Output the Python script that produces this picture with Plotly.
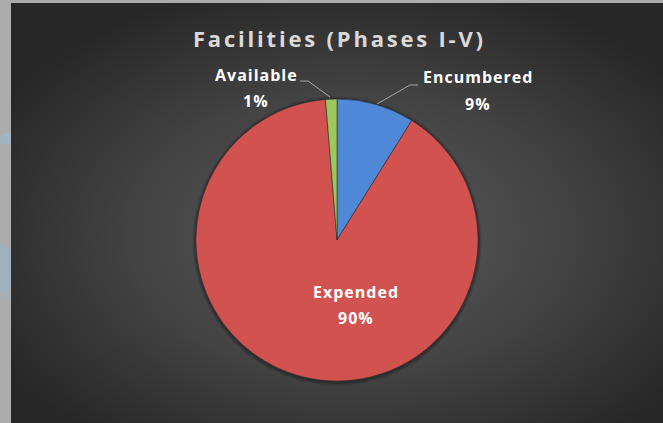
import base64
import plotly.graph_objects as go

# ---- data ----
labels = ["Encumbered", "Expended", "Available"]
values = [8.9, 89.8, 1.3]
colors = ["#4f88d6", "#d2524f", "#9cc75a"]
title_text = "Facilities (Phases I-V)"

W, H = 663, 423

def px(x):
    return x / W

def py(y):
    return 1 - y / H

total = sum(values)
pcts = [round(v / total * 100) for v in values]

# background radial gradient as SVG image
bw, bh = 652, 420
svg = (
    f'<svg xmlns="http://www.w3.org/2000/svg" width="{bw}" height="{bh}">'
    '<defs><radialGradient id="g" cx="0.52" cy="0.55" r="0.62">'
    '<stop offset="0" stop-color="#5c5c5c"/>'
    '<stop offset="0.55" stop-color="#424242"/>'
    '<stop offset="1" stop-color="#272727"/>'
    '</radialGradient></defs>'
    f'<rect width="{bw}" height="{bh}" fill="url(#g)"/></svg>'
)
bg_src = "data:image/svg+xml;base64," + base64.b64encode(svg.encode()).decode()

cx, cy, r = 337, 240, 141

fig = go.Figure()
fig.add_trace(go.Pie(
    labels=labels,
    values=values,
    sort=False,
    direction="clockwise",
    rotation=0,
    textinfo="none",
    hoverinfo="label+percent",
    marker=dict(colors=colors, line=dict(color="rgba(40,40,40,0.55)", width=1)),
    domain=dict(x=[px(cx - r), px(cx + r)], y=[py(cy + r), py(cy - r)]),
    showlegend=False,
))

font_lbl = dict(family="Open Sans", size=16, color="#ffffff", weight="bold")

def spaced(t, ls):
    return f'<span style="letter-spacing:{ls}px">{t}</span>'

# label positions (px): name line and percent line
pos = {
    "Encumbered": ((478, 77), (478, 104)),
    "Expended": ((356, 292), (356, 318)),
    "Available": ((256, 75), (256, 101)),
}

annotations = []
for lab, pct in zip(labels, pcts):
    (nx, ny), (qx, qy) = pos[lab]
    annotations.append(dict(x=px(nx), y=py(ny), xref="paper", yref="paper", text=spaced(lab, 1),
                            showarrow=False, font=font_lbl, xanchor="center", yanchor="middle"))
    annotations.append(dict(x=px(qx), y=py(qy), xref="paper", yref="paper", text=spaced(f"{pct}%", 1),
                            showarrow=False, font=font_lbl, xanchor="center", yanchor="middle"))

annotations.append(dict(x=px(339), y=py(38), xref="paper", yref="paper", text=spaced(title_text, 2.8),
                        showarrow=False, xanchor="center", yanchor="middle",
                        font=dict(family="Open Sans", size=22, color="#d9d9d9", weight="bold")))

def path(points):
    return "M " + " L ".join(f"{px(x)},{py(y)}" for x, y in points)

def circle(rad, fill):
    return dict(type="circle", xref="paper", yref="paper",
                x0=px(cx - rad), x1=px(cx + rad), y0=py(cy + rad + 1), y1=py(cy - rad + 1),
                fillcolor=fill, line=dict(width=0), layer="below")

shapes = [
    circle(r + 3.5, "rgba(0,0,0,0.12)"),
    circle(r + 2, "rgba(0,0,0,0.2)"),
    dict(type="path", xref="paper", yref="paper",
         path=path([(377, 104), (410, 85), (418, 85)]),
         line=dict(color="#a8a8a8", width=1)),
    dict(type="path", xref="paper", yref="paper",
         path=path([(330, 97), (308, 81), (300, 81)]),
         line=dict(color="#a8a8a8", width=1)),
    # faint decorations on the left grey strip
    dict(type="path", xref="paper", yref="paper",
         path=path([(0, 136), (11, 132), (11, 143), (0, 145)]) + " Z",
         fillcolor="#a3b3c0", line=dict(width=0), layer="below"),
    dict(type="path", xref="paper", yref="paper",
         path=path([(0, 242), (11, 250), (11, 282), (6, 300), (0, 292)]) + " Z",
         fillcolor="#a0b1be", line=dict(width=0), layer="below"),
]

fig.update_layout(
    width=W, height=H,
    margin=dict(l=0, r=0, t=0, b=0),
    paper_bgcolor="#acacac",
    plot_bgcolor="rgba(0,0,0,0)",
    images=[dict(source=bg_src, xref="paper", yref="paper", x=px(11), y=py(3),
                 sizex=bw / W, sizey=bh / H, xanchor="left", yanchor="top",
                 sizing="stretch", layer="below")],
    annotations=annotations,
    shapes=shapes,
)

fig.write_html("out.html")
